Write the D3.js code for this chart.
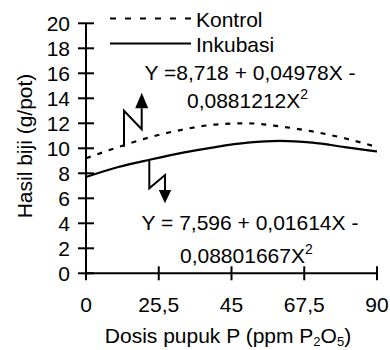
<!DOCTYPE html>
<html><head><meta charset="utf-8">
<script src="https://cdn.jsdelivr.net/npm/d3@7"></script>
<style>body{margin:0;background:#fff}svg{display:block}text{font-family:"Liberation Sans",Arial,sans-serif;fill:#000}</style>
</head><body>
<script>
const doses = [0,10,20,30,40,50,60,70,80,90];
const kontrol = [9.2,10.1,10.9,11.5,11.9,12.0,11.75,11.35,10.8,10.1];
const inkubasi = [7.7,8.5,9.1,9.65,10.1,10.45,10.6,10.45,10.1,9.75];
const xTicks = [0,22.5,45,67.5,90];
const xTickLabels = ["0","25,5","45","67,5","90"];
const yTicks = [0,2,4,6,8,10,12,14,16,18,20];
const seriesNames = ["Kontrol","Inkubasi"];
const eqKontrol = ["Y =8,718 + 0,04978X -","0,0881212X"];
const eqInkubasi = ["Y = 7,596 + 0,01614X -","0,08801667X"];
// annotation arrows (data coords)
const upArrow = [[11.75,10.13],[11.75,13.0],[17.23,11.52],[17.23,13.2]];
const upTip = [17.23,14.45];
const downArrow = [[19.58,9.06],[19.58,6.8],[24.43,7.86],[24.43,6.66]];
const downTip = [24.43,5.6];

const W=390,H=350;
const svg=d3.select("body").append("svg").attr("width",W).attr("height",H);
const x=d3.scaleLinear().domain([0,90]).range([86,377]);
const y=d3.scaleLinear().domain([0,20]).range([273.3,23.3]);
const FS=21;

// axes
const g=svg.append("g");
g.append("line").attr("x1",x(0)).attr("x2",x(0)).attr("y1",y(20)).attr("y2",y(0)).attr("stroke","#000").attr("stroke-width",2);
g.append("line").attr("x1",x(0)).attr("x2",x(90)).attr("y1",y(0)).attr("y2",y(0)).attr("stroke","#000").attr("stroke-width",2);
yTicks.forEach(v=>{
  g.append("line").attr("x1",x(0)-8).attr("x2",x(0)+8).attr("y1",y(v)).attr("y2",y(v)).attr("stroke","#000").attr("stroke-width",2);
  g.append("text").attr("x",70).attr("y",y(v)+7.5).attr("text-anchor","end").attr("font-size",FS).text(v);
});
xTicks.forEach((v,i)=>{
  g.append("line").attr("x1",x(v)).attr("x2",x(v)).attr("y1",y(0)-7).attr("y2",y(0)+7).attr("stroke","#000").attr("stroke-width",2);
  g.append("text").attr("x",x(v)).attr("y",311.5).attr("text-anchor","middle").attr("font-size",FS).text(xTickLabels[i]);
});
// axis titles
const xt=svg.append("text").attr("x",228).attr("y",343).attr("text-anchor","middle").attr("font-size",FS);
xt.append("tspan").text("Dosis pupuk P (ppm P");
xt.append("tspan").attr("font-size",13).attr("dy",3).text("2");
xt.append("tspan").attr("dy",-3).text("O");
xt.append("tspan").attr("font-size",13).attr("dy",3).text("5");
xt.append("tspan").attr("dy",-3).text(")");
svg.append("text").attr("transform","translate(32,146) rotate(-90)").attr("text-anchor","middle").attr("font-size",FS).text("Hasil biji (g/pot)");

// curves
const line=d3.line().x((d,i)=>x(doses[i])).y(d=>y(d)).curve(d3.curveMonotoneX);
svg.append("path").attr("d",line(kontrol)).attr("fill","none").attr("stroke","#000").attr("stroke-width",2.2).attr("stroke-dasharray","5,7");
svg.append("path").attr("d",line(inkubasi)).attr("fill","none").attr("stroke","#000").attr("stroke-width",2.2);

// legend
svg.append("line").attr("x1",110).attr("x2",191).attr("y1",18.5).attr("y2",18.5).attr("stroke","#000").attr("stroke-width",2.2).attr("stroke-dasharray","6,9");
svg.append("line").attr("x1",110).attr("x2",191).attr("y1",43.5).attr("y2",43.5).attr("stroke","#000").attr("stroke-width",2.2);
svg.append("text").attr("x",196).attr("y",26.7).attr("font-size",FS).text(seriesNames[0]);
svg.append("text").attr("x",196).attr("y",51.7).attr("font-size",FS).text(seriesNames[1]);

// equations
function eq(lines,y1,y2,x2){
  svg.append("text").attr("x",250).attr("y",y1).attr("text-anchor","middle").attr("font-size",FS).text(lines[0]);
  const t=svg.append("text").attr("x",x2).attr("y",y2).attr("font-size",FS);
  t.append("tspan").text(lines[1]);
  t.append("tspan").attr("font-size",14).attr("dy",-9).text("2");
}
eq(eqKontrol,80,108.3,187);
eq(eqInkubasi,230,263.3,180);

// arrows
const aline=d3.line().x(d=>x(d[0])).y(d=>y(d[1]));
svg.append("path").attr("d",aline(upArrow)).attr("fill","none").attr("stroke","#000").attr("stroke-width",2);
svg.append("path").attr("d",aline(downArrow)).attr("fill","none").attr("stroke","#000").attr("stroke-width",2);
function tri(tip,base,hw){
  const tx=x(tip[0]),ty=y(tip[1]),by=y(base);
  svg.append("path").attr("d",`M${tx},${ty}L${tx-hw},${by}L${tx+hw},${by}Z`).attr("fill","#000");
}
tri(upTip,upArrow[3][1],6.5);
tri(downTip,downArrow[3][1],6.2);
</script>
</body></html>
